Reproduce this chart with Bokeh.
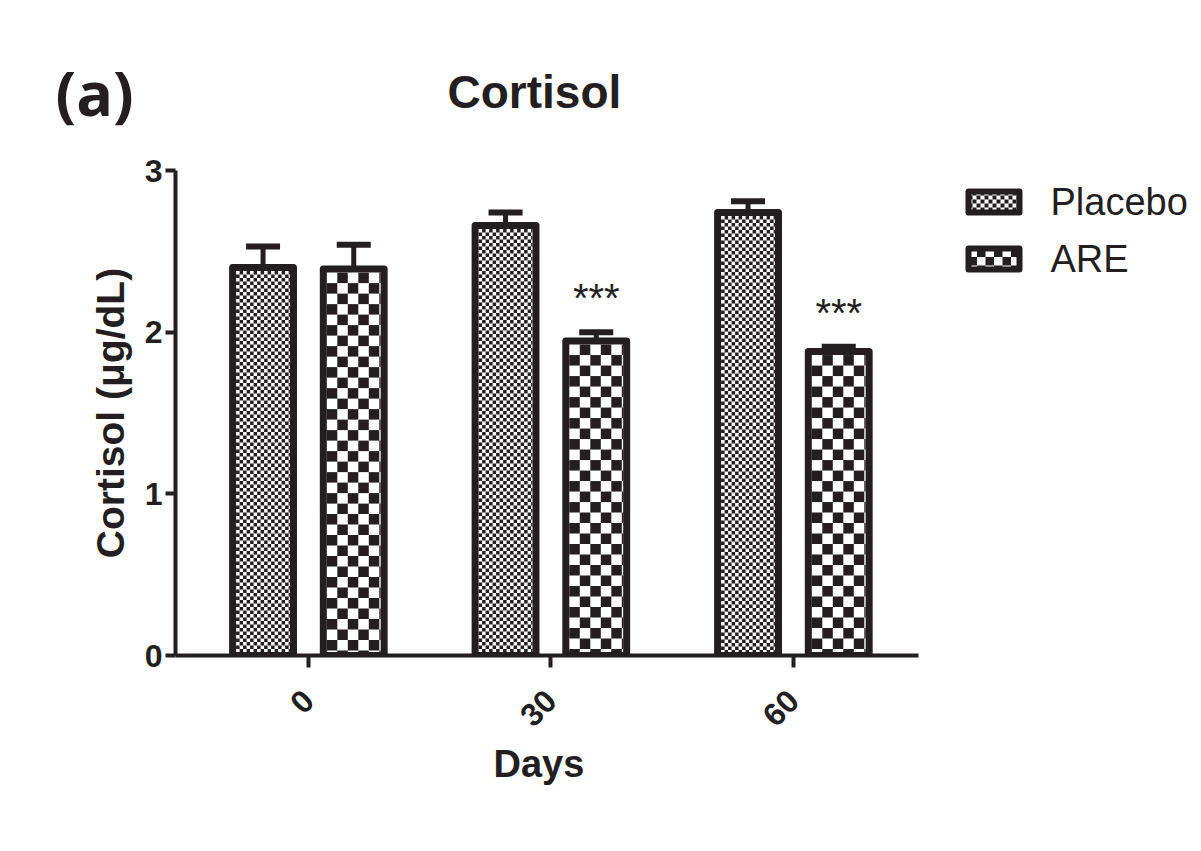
import numpy as np
from bokeh.plotting import figure
from bokeh.models import (ColumnDataSource, Range1d, FixedTicker, Whisker, TeeHead, Title)
from bokeh.core.properties import value
from bokeh.embed import file_html
from bokeh.resources import INLINE

# datos
days = ["0", "30", "60"]
series = ["Placebo", "ARE"]
placebo = [2.40, 2.66, 2.74]
placebo_err = [0.13, 0.08, 0.07]
are = [2.39, 1.945, 1.88]
are_err = [0.15, 0.055, 0.03]
signif = ["", "***", "***"]

INK = "#231f20"
FONT = "Liberation Sans"

# geometria del marco (px)
FW, FH = 1020, 485
XS, XA = -0.548, 2.516          # inicio del rango x y fin del eje x
XPX = 242.5                     # px por categoria
YMAX = 3
YPX = FH / YMAX
XE = XS + FW / XPX

off = 0.187
bw = 0.251
lw = 7
cell = {"Placebo": 3.5, "ARE": 10.5}
cell_leg = {"Placebo": 4.0, "ARE": 8.5}

idx = np.arange(len(days))


def checker(l, r, b, t, c):
    # celdas negras de un damero dentro de [l, r] x [b, t] (datos), celda de c px
    lp, rp = (l - XS) * XPX, (r - XS) * XPX
    bp, tp = b * YPX, t * YPX
    nx = int(np.ceil((rp - lp) / c))
    ny = int(np.ceil((tp - bp) / c))
    i, j = np.meshgrid(np.arange(nx), np.arange(ny))
    m = (i + j) % 2 == 1
    L = lp + i[m] * c
    R = np.minimum(L + c, rp)
    T = tp - j[m] * c
    B = np.maximum(T - c, bp)
    return list(L / XPX + XS), list(R / XPX + XS), list(B / YPX), list(T / YPX)


p = figure(frame_width=FW, frame_height=FH,
           min_border_left=175, min_border_top=170,
           min_border_right=4, min_border_bottom=190,
           x_range=Range1d(XS, XE), y_range=Range1d(0, YMAX),
           output_backend="svg", toolbar_location=None)

hx = lw / 2 / XPX
hy = lw / 2 / YPX
cells = dict(left=[], right=[], bottom=[], top=[])
for name, vals, errs, sign in (("Placebo", placebo, placebo_err, -1), ("ARE", are, are_err, 1)):
    xs = idx + sign * off
    src = ColumnDataSource(dict(x=xs, top=vals, up=np.array(vals) + np.array(errs)))
    p.vbar(x="x", top="top", width=bw, source=src, fill_color="white", line_color=None)
    for x, v in zip(xs, vals):
        L, R, B, T = checker(x - bw / 2 + hx, x + bw / 2 - hx, 0, v - hy, cell[name])
        cells["left"] += L
        cells["right"] += R
        cells["bottom"] += B
        cells["top"] += T
    p.add_layout(Whisker(source=src, base="x", lower="top", upper="up",
                         line_color=INK, line_width=5, lower_head=None,
                         upper_head=TeeHead(size=34, line_width=6, line_color=INK)))
    if name == "ARE":
        src.data["star"] = signif
        src.data["ys"] = src.data["up"] + 0.21
        p.text(x="x", y="ys", text="star", source=src, text_align="center",
               text_baseline="middle", text_font=value(FONT), text_font_size="40px",
               text_color=INK)

# leyenda dibujada dentro del marco, a la derecha del eje
LEG_X, LEG_Y, LEG_W, LEG_H, LEG_DY = 790, 467, 57, 27, 57
lg = dict(l=[], r=[], b=[], t=[], tx=[], ty=[])
for k, name in enumerate(series):
    l = XS + (LEG_X + 3) / XPX
    r = XS + (LEG_X + LEG_W - 3) / XPX
    t = (LEG_Y - k * LEG_DY - 3) / YPX
    b = (LEG_Y - k * LEG_DY - LEG_H + 3) / YPX
    L, R, B, T = checker(l, r, b, t, cell_leg[name])
    cells["left"] += L
    cells["right"] += R
    cells["bottom"] += B
    cells["top"] += T
    lg["l"].append(l)
    lg["r"].append(r)
    lg["b"].append(b)
    lg["t"].append(t)
    lg["tx"].append(XS + (LEG_X + LEG_W + 28) / XPX)
    lg["ty"].append((LEG_Y - k * LEG_DY - LEG_H / 2) / YPX)

p.quad(source=ColumnDataSource(cells), left="left", right="right", bottom="bottom",
       top="top", fill_color=INK, line_color=None)

# contornos de barras encima del damero
src_o = ColumnDataSource(dict(x=np.concatenate([idx - off, idx + off]),
                              top=placebo + are))
p.vbar(x="x", top="top", width=bw, source=src_o, fill_color=None,
       line_color=INK, line_width=lw, line_join="round")

p.quad(left=lg["l"], right=lg["r"], bottom=lg["b"], top=lg["t"], fill_color=None,
       line_color=INK, line_width=6, line_join="round")
p.text(x=lg["tx"], y=lg["ty"], text=series, text_baseline="middle",
       text_font=value(FONT), text_font_size="38px", text_color=INK)

# ejes
for ax in (p.xaxis[0], p.yaxis[0]):
    ax.axis_line_width = 4
    ax.axis_line_color = INK
    ax.major_tick_line_width = 4
    ax.major_tick_line_color = INK
    ax.major_tick_in = 0
    ax.minor_tick_line_color = None
    ax.major_label_text_font = FONT
    ax.major_label_text_font_style = "bold"
    ax.major_label_text_color = INK
    ax.axis_label_text_font = FONT
    ax.axis_label_text_font_style = "bold"
    ax.axis_label_text_color = INK

p.yaxis.ticker = FixedTicker(ticks=[0, 1, 2, 3])
p.yaxis.major_tick_out = 10
p.yaxis.major_label_standoff = 3
p.yaxis.major_label_text_font_size = "32px"
p.yaxis.axis_label = "Cortisol (\u03bcg/dL)"
p.yaxis.axis_label_text_font_size = "39px"
p.yaxis.axis_label_standoff = 10

p.xaxis.bounds = (XS, XA)
p.xaxis.ticker = FixedTicker(ticks=list(idx))
p.xaxis.major_label_overrides = {int(i): d for i, d in zip(idx, days)}
p.xaxis.major_label_orientation = np.pi / 4
p.xaxis.major_label_text_font_size = "32px"
p.xaxis.major_tick_out = 12
p.xaxis.major_label_standoff = 28

p.xgrid.visible = False
p.ygrid.visible = False
p.outline_line_color = None

# titulos: "Days" bajo el eje, "(a)" (junto al marco) y "Cortisol" arriba
p.add_layout(Title(text="Days", align="left", offset=318, standoff=2,
                   text_font=FONT, text_font_style="bold",
                   text_font_size="38px", text_color=INK), "below")

p.add_layout(Title(text="(a)", align="left", offset=-120, standoff=74,
                   text_font="Open Sans", text_font_style="bold",
                   text_font_size="61px", text_color=INK), "above")
p.title.text = "Cortisol"
p.title.align = "left"
p.title.offset = 272
p.title.standoff = -212
p.title.text_font = FONT
p.title.text_font_style = "bold"
p.title.text_font_size = "46px"
p.title.text_color = INK

open("out.html", "w").write(file_html(p, INLINE))
